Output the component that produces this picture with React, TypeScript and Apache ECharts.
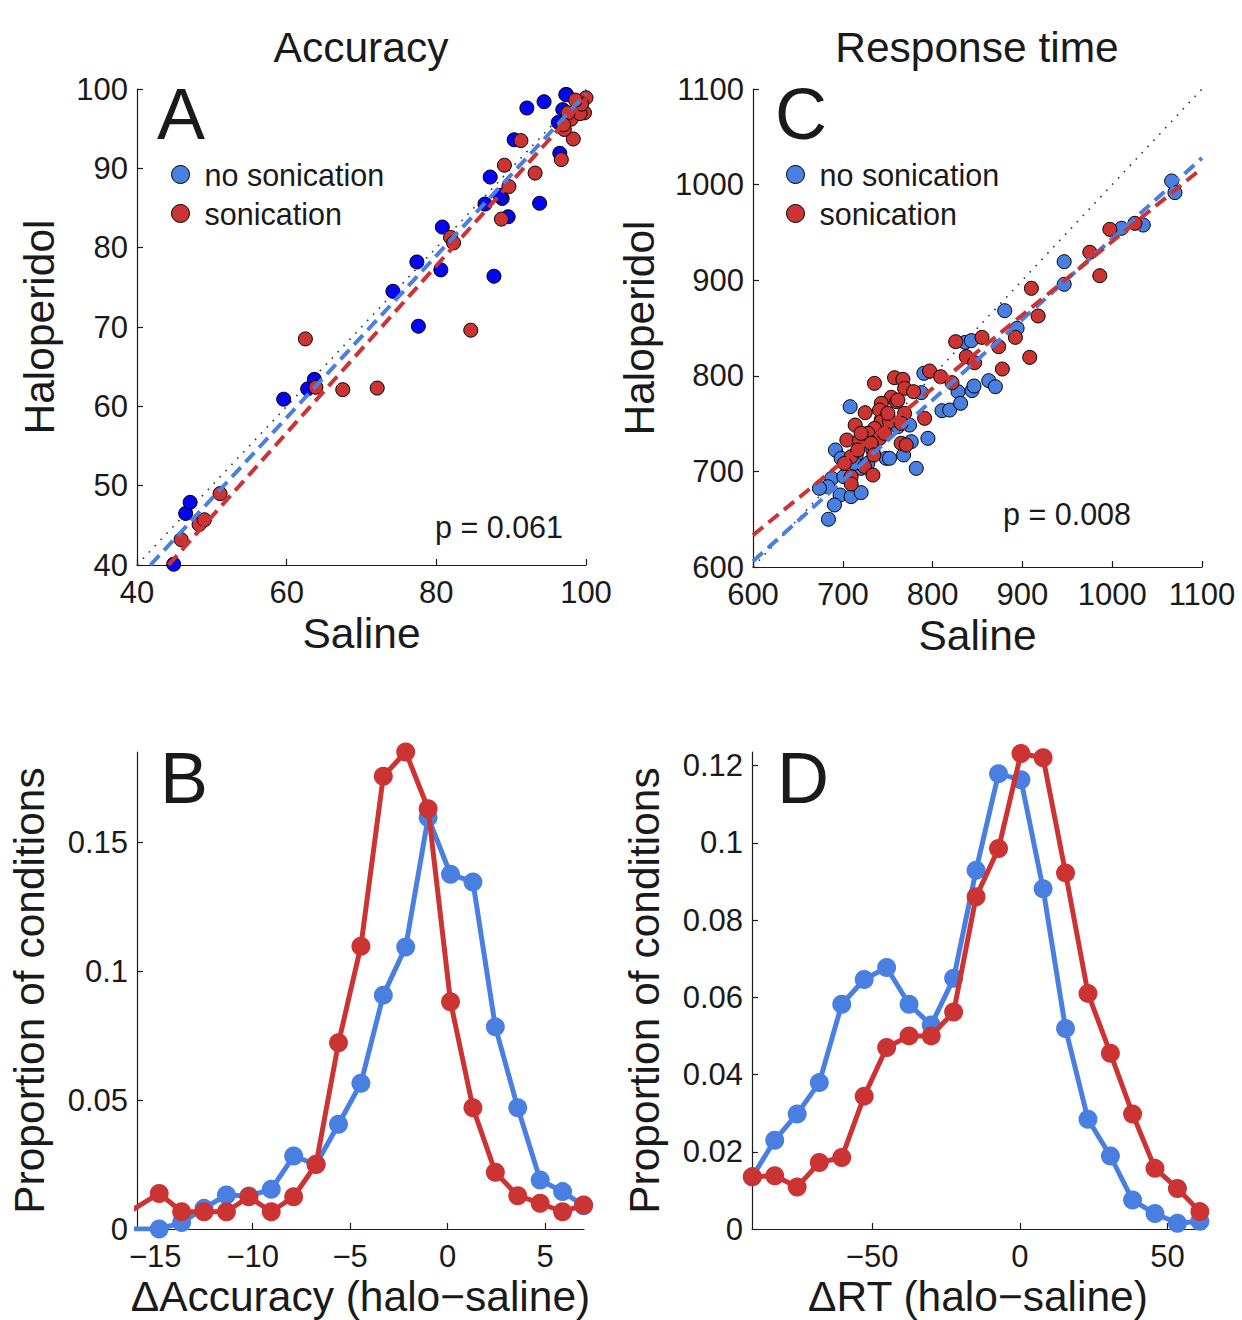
import React, { useEffect, useRef } from "react";
import * as echarts from "echarts";

// ---------- Panel A: accuracy scatter (Saline x, Haloperidol y) ----------
const accNoSon: [number, number][] = [
  [44.9, 40.1], [46.5, 46.5], [47.1, 47.9], [59.6, 60.9], [62.8, 62.2], [63.7, 63.4],
  [74.2, 74.5], [77.6, 70.1], [77.4, 78.2], [80.6, 77.2], [80.8, 82.6], [87.7, 76.4],
  [86.5, 85.5], [87.2, 88.9], [88.8, 86.2], [89.6, 83.9], [90.4, 93.6], [93.8, 85.6],
  [92.1, 97.6], [94.4, 98.4], [96.5, 91.9], [96.3, 95.8], [96.9, 97.4], [97.4, 99.3],
  [88.5, 86.6], [97.3, 99.3],
];
const accSon: [number, number][] = [
  [45.9, 43.2], [48.3, 45.1], [49.0, 45.7], [51.1, 49.0], [62.5, 68.5], [63.9, 62.4],
  [67.5, 62.1], [72.1, 62.3], [84.6, 69.6], [81.9, 81.3], [82.3, 80.6], [89.1, 90.4],
  [89.7, 87.7], [88.7, 83.6], [93.2, 89.4], [91.3, 93.5], [96.7, 91.1], [98.3, 93.7],
  [97.1, 94.9], [99.6, 100.2], [100.0, 98.9], [98.9, 97.4], [99.8, 97.0], [98.0, 96.2],
  [99.2, 96.9], [97.6, 97.0], [99.4, 98.1], [98.6, 98.6], [97.0, 95.5],
];
const accFitNoSon: [number, number][] = [[41.8, 40], [100, 99.4]];
const accFitSon: [number, number][] = [[44.2, 40], [100, 98.8]];
const accIdentity: [number, number][] = [[40, 40], [100, 100]];

// ---------- Panel C: response time scatter ----------
const rtNoSon: [number, number][] = [
  [1066.2, 1003.8], [1069.9, 991.6], [1034.6, 957.7], [1010.4, 954.3], [946.5, 919.4],
  [946.5, 895.7], [880.3, 868.1], [894.1, 849.7], [836.4, 835], [843.1, 836.8],
  [790.3, 802.6], [862.5, 794.9], [869.9, 788.6], [843.9, 784.5], [846.1, 789.3],
  [828.3, 783.4], [810.4, 763.5], [819, 764.2], [831.2, 771.2], [787.4, 782.4],
  [708.2, 767.7], [774.3, 748.5], [794.8, 734.6], [776.2, 731.1], [691.8, 722.4],
  [698.1, 713.7], [714.9, 717.2], [748.3, 713.7], [752, 713.7], [767.7, 717.2],
  [781.8, 703.2], [720.4, 703.2], [687.7, 692.7], [683.3, 684], [674, 682.3],
  [697, 675.3], [709.3, 673.6], [720.4, 677.8], [690.7, 664.9], [684, 649.9],
  [701.1, 694.5], [742.8, 753.8], [761.3, 746.8], [713, 708.4], [727.9, 708.4],
  [733.5, 722.4],
];
const rtSon: [number, number][] = [
  [997.4, 953.2], [1025.3, 959.5], [975.1, 929.2], [986.2, 904.7], [910, 891.5],
  [917.5, 862.6], [892.2, 840.2], [825.7, 835.7], [855, 840.2], [873.6, 830.5],
  [837.5, 820], [846.8, 813.7], [908.2, 819.3], [877.7, 807.1], [796.7, 805],
  [808.9, 799.1], [821.6, 792.8], [735.3, 792.1], [757.6, 798], [766.9, 796.3],
  [768.8, 786.9], [753.9, 777.5], [742.8, 771.2], [759.9, 772.9], [778.8, 783.4],
  [724.9, 761.4], [740.9, 764.2], [768.8, 760.7], [742.8, 752], [713.8, 748.5],
  [752, 752], [765, 750.3], [735.3, 745], [791.1, 755.5], [704.5, 732.8],
  [718.6, 732.8], [727.9, 739.8], [740.9, 734.6], [731.6, 729.4], [765, 729.4],
  [770.6, 727.6], [709.3, 715.4], [734.6, 717.2], [724.2, 705], [733.5, 696.2],
  [709.3, 694.5], [709.3, 686.8], [720.4, 739.8], [746.5, 739.8], [750.2, 760.7],
  [761.3, 774.7], [716.7, 722.4], [701.9, 708.4],
];
const rtFitNoSon: [number, number][] = [[600, 606], [1100, 1027.8]];
const rtFitSon: [number, number][] = [[600, 633.3], [1100, 1017.2]];
const rtIdentity: [number, number][] = [[600, 600], [1100, 1100]];

// ---------- Panel B: distribution of accuracy differences ----------
const dAccBins = [-16.2, -14.8, -13.65, -12.5, -11.35, -10.2, -9.05, -7.9, -6.75, -5.6, -4.45,
  -3.3, -2.15, -1.0, 0.15, 1.3, 2.45, 3.6, 4.75, 5.9, 6.98];
const dAccNoSon = [0, 0, 0.0025, 0.008, 0.0132, 0.0128, 0.0154, 0.0283, 0.025, 0.0406, 0.0565,
  0.0907, 0.1094, 0.1596, 0.1376, 0.1346, 0.0784, 0.047, 0.019, 0.0145, 0.009];
const dAccSon = [0.0073, 0.0138, 0.0067, 0.0067, 0.0067, 0.0125, 0.0067, 0.0125, 0.0251, 0.0722,
  0.1097, 0.1756, 0.185, 0.163, 0.0881, 0.047, 0.022, 0.0129, 0.010, 0.0067, 0.0093];

// ---------- Panel D: distribution of RT differences ----------
const dRtBins = [-90.6, -83.0, -75.4, -67.9, -60.3, -52.7, -45.1, -37.5, -30.0, -22.4, -14.8,
  -7.2, 0.4, 7.9, 15.5, 23.1, 30.7, 38.2, 45.8, 53.4, 61.0];
const dRtNoSon = [0.0135, 0.023, 0.0298, 0.0379, 0.0582, 0.0646, 0.0677, 0.0582, 0.0528, 0.0649,
  0.0929, 0.1179, 0.1163, 0.0881, 0.0519, 0.0284, 0.0189, 0.0075, 0.004, 0.0015, 0.002];
const dRtSon = [0.0135, 0.0138, 0.0109, 0.0172, 0.0185, 0.0344, 0.047, 0.05, 0.05, 0.0562, 0.086,
  0.0985, 0.1231, 0.122, 0.0922, 0.061, 0.0455, 0.0298, 0.0157, 0.0105, 0.0045];

// ---------- tick labels ----------
const ticksBX = [-15, -10, -5, 0, 5];
const ticksBY = [0, 0.05, 0.1, 0.15];
const ticksDX = [-50, 0, 50];
const ticksDY = [0, 0.02, 0.04, 0.06, 0.08, 0.1, 0.12];

const NAME_NO = "no sonication";
const NAME_SON = "sonication";
const FONT = '"Liberation Sans", Arial, Helvetica, sans-serif';
const BLUE = "#4a7fe2";
const DARK_BLUE = "#0505f5";
const RED = "#cc3333";
const INK = "#1a1a1a";
const TICK_FS = 31;
const NAME_FS = 42.5;

const fmt = (v: number) => String(+v.toFixed(4)).replace("-", "\u2212");

function lbl(margin: number, custom?: number[]) {
  const o: any = { color: INK, fontSize: TICK_FS, fontFamily: FONT, margin, formatter: fmt };
  if (custom) o.customValues = custom;
  return o;
}

function tck(custom?: number[]) {
  const o: any = { show: true, inside: true, length: 6, lineStyle: { color: INK, width: 1.2 } };
  if (custom) o.customValues = custom;
  return o;
}

function axisBase(extra: any) {
  return {
    type: "value",
    axisLine: { show: true, onZero: false, lineStyle: { color: INK, width: 1.2 } },
    axisTick: tck(),
    splitLine: { show: false },
    nameTextStyle: { color: INK, fontSize: NAME_FS, fontFamily: FONT },
    nameLocation: "middle",
    ...extra,
  };
}

function scatterSeries(name: string, data: [number, number][], color: string, idx: number) {
  return {
    type: "scatter",
    name,
    xAxisIndex: idx,
    yAxisIndex: idx,
    data,
    symbol: "circle",
    symbolSize: 14,
    itemStyle: { color, borderColor: "#000", borderWidth: 1, opacity: 1 },
    z: 2,
  };
}

function fitSeries(data: [number, number][], color: string, idx: number, dotted = false) {
  return {
    type: "line",
    xAxisIndex: idx,
    yAxisIndex: idx,
    data,
    symbol: "none",
    silent: true,
    clip: true,
    lineStyle: dotted
      ? { color: "#333", width: 1.6, type: [1.6, 7] }
      : { color, width: 4, type: [13, 7] },
    z: dotted ? 1 : 3,
  };
}

function distSeries(bins: number[], vals: number[], color: string, idx: number, z: number) {
  return {
    type: "line",
    xAxisIndex: idx,
    yAxisIndex: idx,
    data: bins.map((b, i) => [b, vals[i]]),
    symbol: "circle",
    symbolSize: 19,
    showAllSymbol: true,
    clip: true,
    lineStyle: { color, width: 5 },
    itemStyle: { color, borderWidth: 0 },
    z,
  };
}

function legendAt(left: number) {
  return {
    orient: "vertical",
    left,
    top: 154,
    itemWidth: 32,
    itemHeight: 18,
    itemGap: 8,
    icon: "circle",
    selectedMode: false,
    textStyle: { fontSize: 30.5, fontFamily: FONT, color: INK, lineHeight: 30, padding: [0, 0, 0, 3] },
    data: [
      { name: NAME_NO, itemStyle: { color: BLUE, borderColor: "#000", borderWidth: 1 } },
      { name: NAME_SON, itemStyle: { color: RED, borderColor: "#000", borderWidth: 1 } },
    ],
  };
}

function txt(text: string, x: number, y: number, size: number, align = "left") {
  return {
    type: "text",
    x,
    y,
    silent: true,
    style: {
      text,
      fill: INK,
      font: `${size}px ${FONT}`,
      fontSize: size,
      fontFamily: FONT,
      align,
      textAlign: align,
      verticalAlign: "middle",
      textVerticalAlign: "middle",
    },
  };
}

export default function App() {
  const ref = useRef<HTMLDivElement>(null);
  useEffect(() => {
    document.body.style.margin = "0";
    const chart = echarts.init(ref.current!, null, { renderer: "svg" });
    const option: any = {
      animation: false,
      backgroundColor: "#fff",
      textStyle: { fontFamily: FONT },
      grid: [
        { left: 137, top: 89, width: 449, height: 476 },
        { left: 753, top: 89, width: 449, height: 478 },
        { left: 137, top: 752, width: 447, height: 477 },
        { left: 752, top: 752, width: 452, height: 477 },
      ],
      xAxis: [
        axisBase({ gridIndex: 0, min: 40, max: 100, interval: 20, name: "Saline", nameGap: 47,
          axisLabel: lbl(12) }),
        axisBase({ gridIndex: 1, min: 600, max: 1100, interval: 100, name: "Saline", nameGap: 47,
          axisLabel: lbl(12) }),
        axisBase({ gridIndex: 2, min: -15.94, max: 7.0, name: "\u0394Accuracy (halo\u2212saline)", nameGap: 46,
          axisTick: tck(ticksBX), axisLabel: lbl(12, ticksBX) }),
        axisBase({ gridIndex: 3, min: -90.7, max: 62.4, name: "\u0394RT (halo\u2212saline)", nameGap: 46,
          axisTick: tck(ticksDX), axisLabel: lbl(12, ticksDX) }),
      ],
      yAxis: [
        axisBase({ gridIndex: 0, min: 40, max: 100, interval: 10, name: "Haloperidol", nameGap: 76,
          axisLabel: lbl(9) }),
        axisBase({ gridIndex: 1, min: 600, max: 1100, interval: 100, name: "Haloperidol", nameGap: 92,
          axisLabel: lbl(9) }),
        axisBase({ gridIndex: 2, min: 0, max: 0.185, name: "Proportion of conditions", nameGap: 86,
          axisTick: tck(ticksBY), axisLabel: lbl(9, ticksBY) }),
        axisBase({ gridIndex: 3, min: 0, max: 0.1235, name: "Proportion of conditions", nameGap: 86,
          axisTick: tck(ticksDY), axisLabel: lbl(9, ticksDY) }),
      ],
      legend: [legendAt(166), legendAt(781)],
      series: [
        fitSeries(accIdentity, "#333", 0, true),
        scatterSeries(NAME_NO, accNoSon, DARK_BLUE, 0),
        scatterSeries(NAME_SON, accSon, RED, 0),
        fitSeries(accFitNoSon, BLUE, 0),
        fitSeries(accFitSon, RED, 0),

        fitSeries(rtIdentity, "#333", 1, true),
        scatterSeries(NAME_NO, rtNoSon, BLUE, 1),
        scatterSeries(NAME_SON, rtSon, RED, 1),
        fitSeries(rtFitNoSon, BLUE, 1),
        fitSeries(rtFitSon, RED, 1),

        distSeries(dAccBins, dAccNoSon, BLUE, 2, 2),
        distSeries(dAccBins, dAccSon, RED, 2, 3),

        distSeries(dRtBins, dRtNoSon, BLUE, 3, 2),
        distSeries(dRtBins, dRtSon, RED, 3, 3),
      ],
      graphic: [
        txt("Accuracy", 361, 47, NAME_FS, "center"),
        txt("Response time", 977, 47, NAME_FS, "center"),
        txt("A", 157, 114, 72),
        txt("C", 775, 114, 72),
        txt("B", 160, 778, 72),
        txt("D", 777, 778, 72),
        txt("p = 0.061", 435, 527, 30.5),
        txt("p = 0.008", 1003, 514, 30.5),
      ],
    };
    chart.setOption(option);
    return () => chart.dispose();
  }, []);
  return <div ref={ref} style={{ width: 1242, height: 1320 }} />;
}
